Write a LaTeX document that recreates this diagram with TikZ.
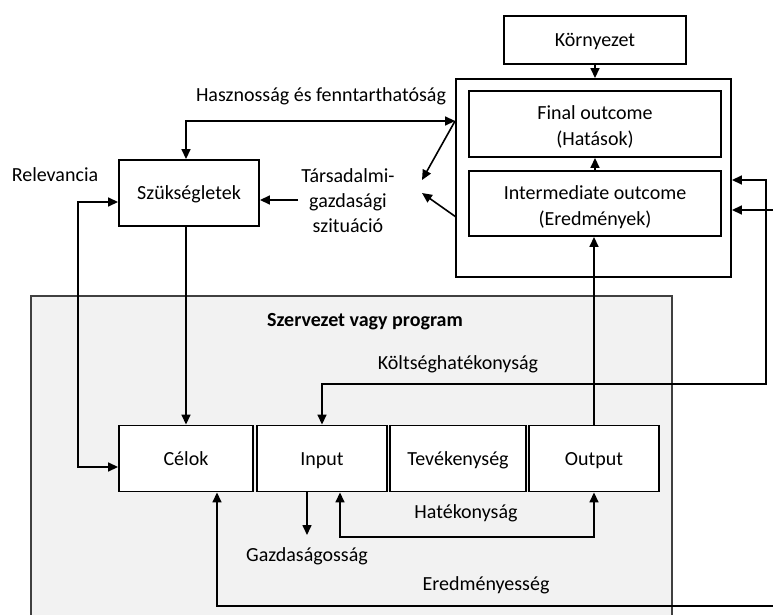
\documentclass[tikz,border=0pt]{standalone}
\usepackage{fontspec}
\setmainfont{Carlito}
\usetikzlibrary{arrows.meta}
\definecolor{progfill}{HTML}{F2F2F2}
\definecolor{progline}{HTML}{404040}
\begin{document}
\begin{tikzpicture}[x=1pt,y=-1pt,
  font=\fontsize{20}{26}\selectfont,
  box/.style={draw, line width=1.9pt, fill=white, align=center, inner sep=0pt},
  oneline/.style={text height=13pt, text depth=0pt},
  twoline/.style={text height=43pt, text depth=0pt},
  tip/.tip={Triangle[length=10pt,width=9pt]},
  conn/.style={line width=1.6pt, -tip},
  biconn/.style={line width=1.6pt, tip-tip},
  lbl/.style={inner sep=1pt, align=center, text height=13pt, text depth=0pt}]
\useasboundingbox (0,0) rectangle (773,615);
\clip (0,0) rectangle (773,615);

% organisation / programme frame
\node[draw=progline, fill=progfill, line width=1.5pt, anchor=north west,
      minimum width=641pt, minimum height=345pt] (prog) at (30,295) {};
\node[lbl, font=\fontsize{20}{26}\selectfont\bfseries] (progt) at (365,320) {Szervezet vagy program};

% outcome frame
\node[box, minimum width=275pt, minimum height=198pt] (outer) at (593.5,178) {};

% boxes
\node[box, oneline, minimum width=182pt, minimum height=48pt] (env) at (595,40) {Környezet};
\node[box, twoline, minimum width=252pt, minimum height=66pt] (final) at (595,124) {Final outcome\\(Hatások)};
\node[box, twoline, minimum width=252pt, minimum height=65pt] (inter) at (595,203.5) {Intermediate outcome\\(Eredmények)};
\node[box, oneline, minimum width=140pt, minimum height=66pt] (need) at (189,193) {Szükségletek};
\node[box, oneline, minimum width=134pt, minimum height=66pt] (cel) at (186,458.5) {Célok};
\node[box, oneline, minimum width=130pt, minimum height=66pt] (inp) at (322,458.5) {Input};
\node[box, oneline, minimum width=136pt, minimum height=66pt] (tev) at (458,458.5) {Tevékenység};
\node[box, oneline, minimum width=130pt, minimum height=66pt] (out) at (594,458.5) {Output};

% free labels
\node[lbl] (haszn) at (321,95.5) {Hasznosság és fenntarthatóság};
\node[lbl] (relev) at (55,174.5) {Relevancia};
\node[lbl, inner sep=3pt, text height=63pt, font=\fontsize{20}{25}\selectfont] (soc) at (348,201) {Társadalmi-\\gazdasági\\szituáció};
\node[lbl] (kolts) at (458,363) {Költséghatékonyság};
\node[lbl] (hatek) at (466,512) {Hatékonyság};
\node[lbl] (gazd) at (307,555) {Gazdaságosság};
\node[lbl] (eredm) at (486,584) {Eredményesség};

% routing points
\coordinate (yh) at (0,121);
\coordinate (yk) at (0,180);
\coordinate (ye) at (0,210);
\coordinate (ys) at (0,200);
\coordinate (xr) at (78,0);
\coordinate (kr) at (766,384);
\coordinate (er) at (800,606);
\coordinate (gz) at (307,535);
\coordinate (hb) at (340,537);
\coordinate (d1) at (422,180);
\coordinate (d2) at (422,193);
\coordinate (d2s) at (456,217);

% connectors
\draw[conn] (env.south) -- (outer.north -| env.south);
\draw[conn] (inter.north) -- (final.south);
\draw[conn] (out.north) -- (inter.south -| out.north);
\draw[biconn] (outer.west |- yh) -| (need.north -| cel.north);
\draw[conn] (outer.west |- yh) -- (d1);
\draw[conn] (d2s) -- (d2);
\draw[conn] (soc.west |- ys) -- (need.east |- ys);
\draw[biconn] ([yshift=-9pt]need.west) -| (xr |- cel.west) |- ([yshift=-8.5pt]cel.west);
\draw[conn] (need.south -| cel.north) -- (cel.north);
\draw[biconn] (outer.east |- yk) -| (kr) -| (inp.north);
\draw[biconn] (outer.east |- ye) -| (er) -| ([xshift=31pt]cel.south);
\draw[conn] (inp.south -| gz) -- (gz);
\draw[biconn] (inp.south -| hb) |- (out.south |- hb) -- (out.south);
\end{tikzpicture}
\end{document}
